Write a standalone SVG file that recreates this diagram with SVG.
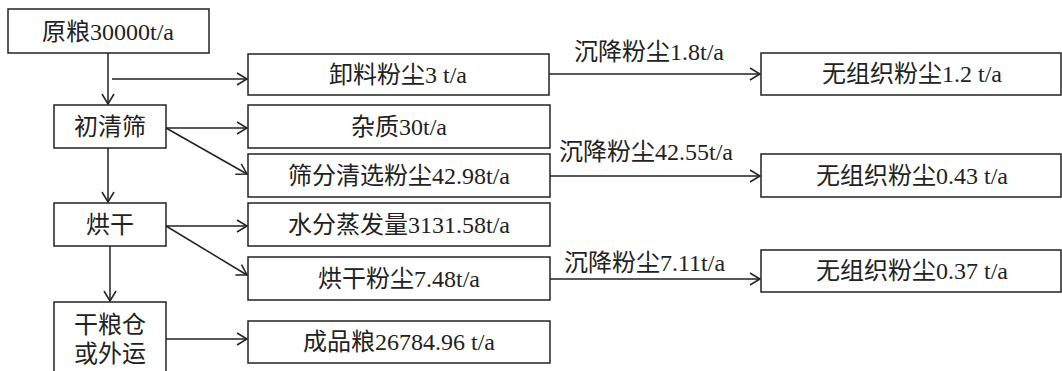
<svg xmlns="http://www.w3.org/2000/svg" width="1062" height="371" viewBox="0 0 1062 371">
<defs>
<style>
.box{fill:#fff;stroke:#222;stroke-width:1.5}
.ln{fill:none;stroke:#222;stroke-width:1.5}
text{font-family:"Liberation Serif","Noto Sans CJK SC",serif;font-size:24px;fill:#222}
.c{text-anchor:middle}
</style>
<marker id="ar" markerWidth="14" markerHeight="14" refX="12" refY="7" orient="auto" markerUnits="userSpaceOnUse">
<path d="M2,1 L12,7 L2,13" fill="none" stroke="#222" stroke-width="1.5"/>
</marker>
</defs>
<rect width="1062" height="371" fill="#fff"/>
<g id="connectors">
<line class="ln" x1="108" y1="53" x2="108" y2="104" marker-end="url(#ar)"/>
<line class="ln" x1="112" y1="79" x2="247" y2="79" marker-end="url(#ar)"/>
<line class="ln" x1="166" y1="128" x2="247" y2="128" marker-end="url(#ar)"/>
<line class="ln" x1="166" y1="128" x2="247" y2="174" marker-end="url(#ar)"/>
<line class="ln" x1="108" y1="148" x2="108" y2="202" marker-end="url(#ar)"/>
<line class="ln" x1="166" y1="226" x2="247" y2="226" marker-end="url(#ar)"/>
<line class="ln" x1="166" y1="226" x2="247" y2="275" marker-end="url(#ar)"/>
<line class="ln" x1="110" y1="246" x2="110" y2="301" marker-end="url(#ar)"/>
<line class="ln" x1="166" y1="339" x2="247" y2="339" marker-end="url(#ar)"/>
<line class="ln" x1="549" y1="74" x2="760" y2="74" marker-end="url(#ar)"/>
<line class="ln" x1="550" y1="176" x2="760" y2="176" marker-end="url(#ar)"/>
<line class="ln" x1="550" y1="279" x2="760" y2="279" marker-end="url(#ar)"/>
<text x="574" y="60">沉降粉尘1.8t/a</text>
<text x="559" y="160">沉降粉尘42.55t/a</text>
<text x="564" y="271">沉降粉尘7.11t/a</text>
</g>
<g id="n-raw"><rect class="box" x="8" y="9" width="201" height="44"/><text class="c" x="108" y="40">原粮30000t/a</text></g>
<g id="n-clean"><rect class="box" x="54" y="105" width="112" height="43"/><text class="c" x="110" y="135">初清筛</text></g>
<g id="n-dry"><rect class="box" x="54" y="203" width="112" height="43"/><text class="c" x="110" y="233">烘干</text></g>
<g id="n-store"><rect class="box" x="54" y="302" width="112" height="80"/><text class="c" x="110" y="333">干粮仓</text><text class="c" x="110" y="362">或外运</text></g>
<g id="n-unload"><rect class="box" x="248" y="54" width="301" height="41"/><text class="c" x="398" y="83">卸料粉尘3 t/a</text></g>
<g id="n-impurity"><rect class="box" x="248" y="105" width="302" height="43"/><text class="c" x="399" y="135">杂质30t/a</text></g>
<g id="n-sieve"><rect class="box" x="248" y="154" width="302" height="43"/><text class="c" x="399" y="184">筛分清选粉尘42.98t/a</text></g>
<g id="n-water"><rect class="box" x="248" y="203" width="302" height="43"/><text class="c" x="399" y="233">水分蒸发量3131.58t/a</text></g>
<g id="n-drydust"><rect class="box" x="248" y="257" width="302" height="43"/><text class="c" x="399" y="287">烘干粉尘7.48t/a</text></g>
<g id="n-product"><rect class="box" x="248" y="321" width="302" height="42"/><text class="c" x="399" y="350">成品粮26784.96 t/a</text></g>
<g id="n-f1"><rect class="box" x="761" y="53" width="300" height="42"/><text class="c" x="912" y="82">无组织粉尘1.2 t/a</text></g>
<g id="n-f2"><rect class="box" x="761" y="154" width="300" height="43"/><text class="c" x="912" y="184">无组织粉尘0.43 t/a</text></g>
<g id="n-f3"><rect class="box" x="761" y="250" width="300" height="42"/><text class="c" x="912" y="279">无组织粉尘0.37 t/a</text></g>
</svg>
